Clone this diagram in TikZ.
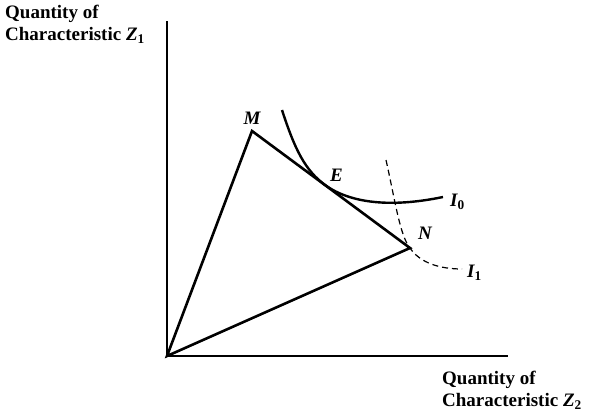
\documentclass[tikz,border=0pt]{standalone}
\usepackage{fontspec}
\setmainfont{Liberation Serif}
\usetikzlibrary{positioning}
\tikzstyle{axis} = [draw, line width=1.6pt]
\tikzstyle{budget} = [draw, line width=2.6pt, line join=miter]
\tikzstyle{curve} = [draw, line width=2.4pt]
\tikzstyle{dcurve} = [draw, line width=1.2pt, dash pattern=on 6pt off 4pt]
\tikzstyle{axlabel} = [inner sep=0pt, align=left,
	font=\fontsize{19}{22}\selectfont\bfseries]
\tikzstyle{ptlabel} = [inner sep=0pt,
	font=\fontsize{19}{22}\selectfont\bfseries\itshape]

\begin{document}
\begin{tikzpicture}[x=1pt, y=-1pt]
		\useasboundingbox (0,0) rectangle (599,413);
		\coordinate (O) at (167,356);
		\coordinate (Ytop) at (167,21);
		\coordinate (Xend) at (508,356);
		\coordinate (M) at (252,131);
		\coordinate (N) at (410,248);
		\coordinate (I0s) at (282,110);
		\coordinate (T) at (325,185);
		\coordinate (I0e) at (443,197);
		\coordinate (I1s) at (386,160);
		\coordinate (I1e) at (462,269);
	
		\path [axis] (Ytop) -- (O) -- (Xend);
		\path [budget] (O) -- (M) -- (N) -- cycle;
		\path [curve] (I0s) .. controls (295,150) and (305,170) .. (T)
			.. controls (350,203) and (390,208) .. (I0e);
		\path [dcurve] (I1s) .. controls (395,200) and (400,236) .. (N)
			.. controls (420,263) and (440,269) .. (I1e);
	
		\node [axlabel, anchor=north west] (ylab) at (5,5)
			{Quantity of\\Characteristic \textit{Z}\textsubscript{1}};
		\node [axlabel, anchor=north west] (xlab) at (442,371)
			{Quantity of\\Characteristic \textit{Z}\textsubscript{2}};
		\node [ptlabel, above=6pt of M] (mlab) {M};
		\node [ptlabel, above right=3pt and 5pt of T] (elab) {E};
		\node [ptlabel, right=7pt of I0e, yshift=-5pt] (i0lab) {I\textsubscript{\upshape 0}};
		\node [ptlabel, above right=8pt and 8pt of N] (nlab) {N};
		\node [ptlabel, right=5pt of I1e, yshift=-4pt] (i1lab) {I\textsubscript{\upshape 1}};
	\end{tikzpicture}
\end{document}
